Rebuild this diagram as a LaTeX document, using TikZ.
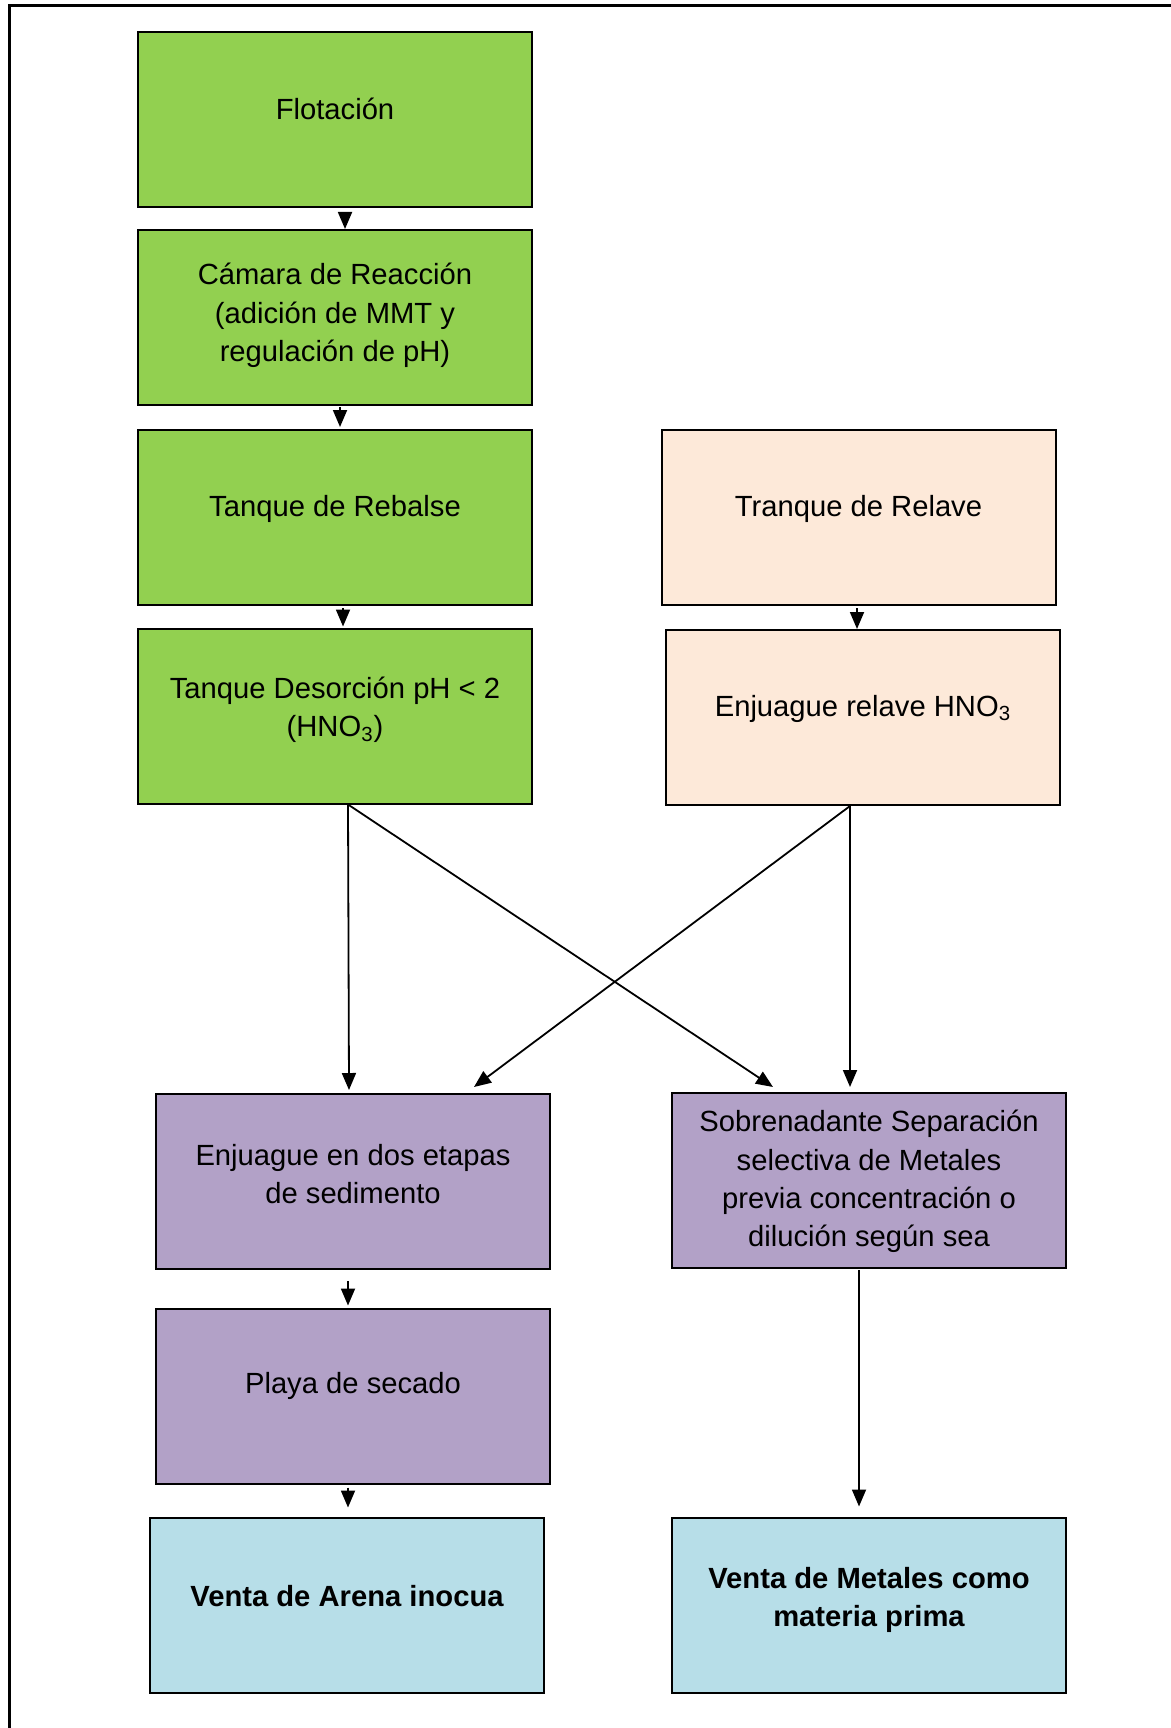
\documentclass[tikz,border=0pt]{standalone}
\usepackage{fontspec}
\setmainfont{Liberation Sans}
\usetikzlibrary{arrows.meta,calc}
\definecolor{verde}{HTML}{92D050}
\definecolor{durazno}{HTML}{FDE9D9}
\definecolor{lila}{HTML}{B2A1C7}
\definecolor{celeste}{HTML}{B7DEE8}
\tikzset{
  caja/.style={draw=black, line width=1pt, minimum width=197pt, minimum height=87.5pt, inner sep=0pt},
  texto/.style={anchor=center, align=center, font=\fontsize{14.6}{19.2}\selectfont},
  negrita/.style={anchor=center, align=center, font=\fontsize{14.6}{19.2}\selectfont\bfseries},
  flecha/.style={-{Triangle[length=8.5pt,width=7pt]}, line width=0.9pt}
}
\begin{document}
\begin{tikzpicture}[x=0.5pt,y=-0.5pt]
\useasboundingbox (0,0) rectangle (1171,1728);
\draw[line width=1.5pt] (9,1728)--(9,6)--(1171,6);
\node[caja,fill=verde,label={[texto,yshift=5.5pt]center:Flotación}] (flot) at (335,119.5) {};
\node[caja,fill=verde,label={[texto,yshift=1pt]center:{Cámara de Reacción\\(adición de MMT y\\regulación de pH)}}] (cam) at (335,317.5) {};
\node[caja,fill=verde,label={[texto,yshift=4.5pt]center:Tanque de Rebalse}] (reb) at (335,517.5) {};
\node[caja,fill=verde,label={[texto,yshift=3pt]center:{Tanque Desorción pH < 2\\(HNO\textsubscript{3})}}] (des) at (335,716) {};
\node[caja,fill=durazno,label={[texto,yshift=4.5pt]center:Tranque de Relave}] (tra) at (858.5,517.5) {};
\node[caja,fill=durazno,label={[texto,yshift=4.25pt]center:{Enjuague relave HNO\textsubscript{3}}}] (enj) at (863,717.5) {};
\node[caja,fill=lila,label={[texto,yshift=3.75pt]center:{Enjuague en dos etapas\\de sedimento}}] (dos) at (353,1181.5) {};
\node[caja,fill=lila,label={[texto,yshift=-0.5pt]center:{Sobrenadante Separación\\selectiva de Metales\\previa concentración o\\dilución según sea}}] (sob) at (869,1180.5) {};
\node[caja,fill=lila,label={[texto,yshift=5pt]center:Playa de secado}] (pla) at (353,1396) {};
\node[caja,fill=celeste,label={[negrita,yshift=4.5pt]center:Venta de Arena inocua}] (are) at (347,1605) {};
\node[caja,fill=celeste,label={[negrita,yshift=2.5pt]center:{Venta de Metales como\\materia prima}}] (met) at (869,1605) {};
\draw[flecha] ($(flot.south)+(10,5)$) -- ($(cam.north)+(10,0)$);
\draw[flecha] ($(cam.south)+(5,1)$) -- ($(reb.north)+(5,-2)$);
\draw[flecha] ($(reb.south)+(8,2)$) -- ($(des.north)+(8,-1)$);
\draw[flecha] ($(tra.south)+(-1.5,2)$) -- ($(enj.north)+(-6,0)$);
\draw[flecha] ($(des.south)+(13,0)$) -- ($(dos.north)+(-4,-3)$);
\draw[flecha] ($(des.south)+(13,0)$) -- ($(sob.north)+(-96,-5)$);
\draw[flecha] ($(enj.south)+(-13,0)$) -- ($(dos.north)+(121,-6)$);
\draw[flecha] ($(enj.south)+(-13,0)$) -- ($(sob.north)+(-19,-5)$);
\draw[flecha] ($(dos.south)+(-5,11)$) -- ($(pla.north)+(-5,-2)$);
\draw[flecha] ($(pla.south)+(-5,3)$) -- ($(are.north)+(1,-9)$);
\draw[flecha] ($(sob.south)+(-10,1)$) -- ($(met.north)+(-10,-10)$);
\end{tikzpicture}
\end{document}
